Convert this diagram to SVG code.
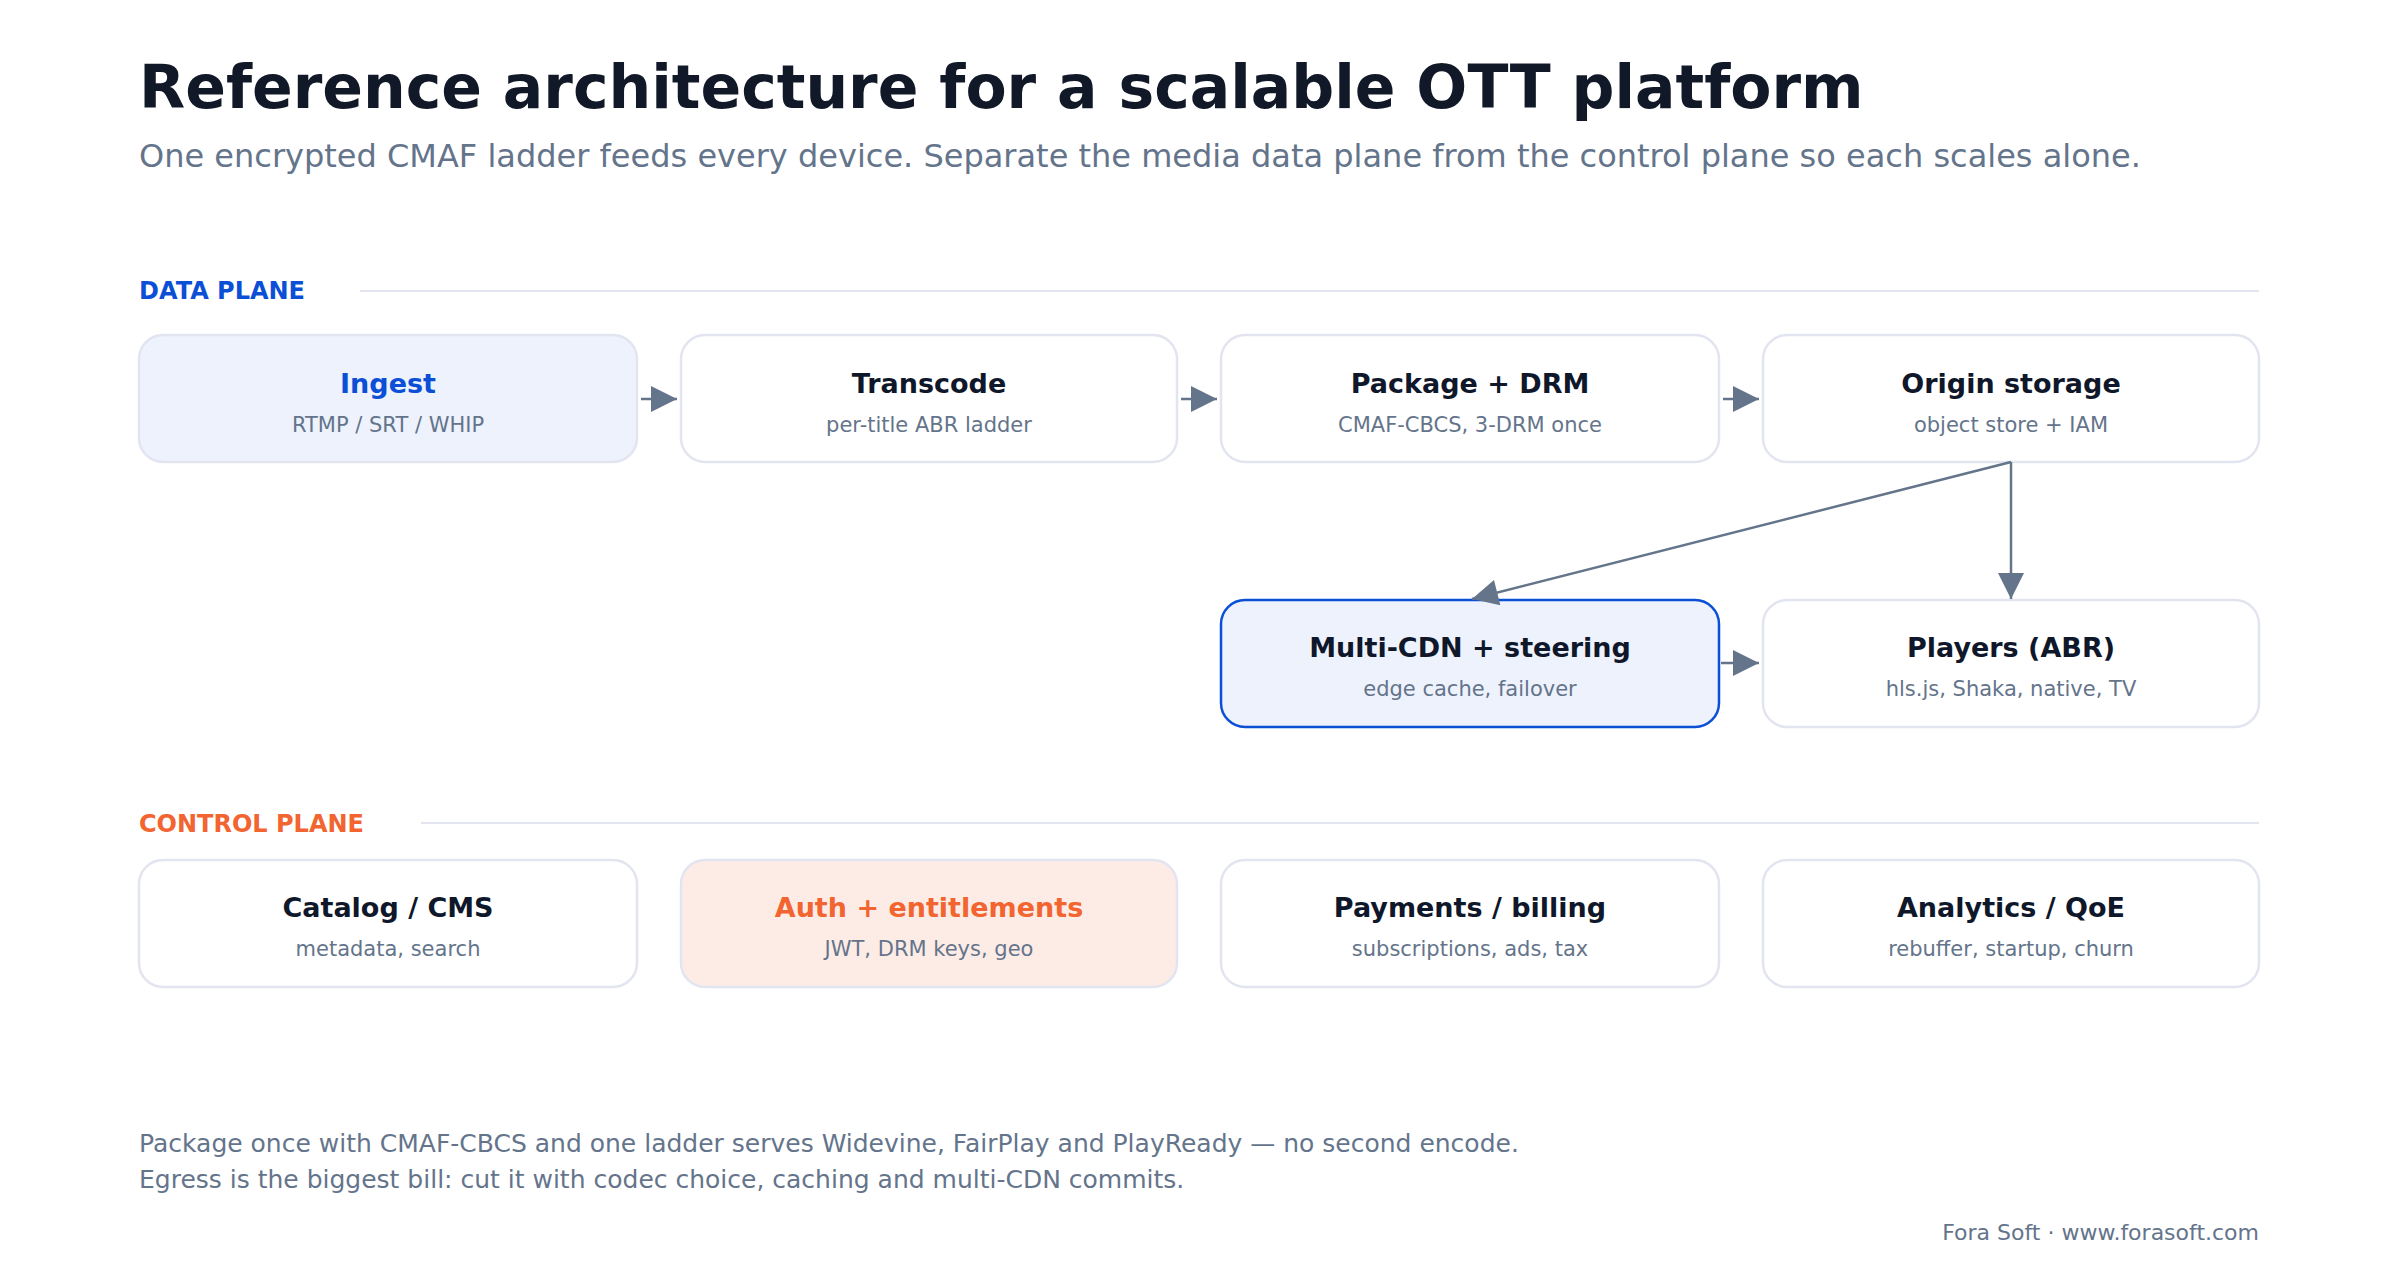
<svg xmlns="http://www.w3.org/2000/svg" width="2400" height="1280" viewBox="0 0 2400 1280">
<style>
text{font-family:"DejaVu Sans","Noto Sans",sans-serif}
.box{fill:#fff;stroke:#e2e5f0;stroke-width:2.5}
.t{font-size:27px;font-weight:bold;fill:#0f172a;text-anchor:middle}
.s{font-size:21px;fill:#64748b;text-anchor:middle}
.sec{font-size:24px;font-weight:bold}
.foot{font-size:25px;fill:#64748b}
</style>
<defs>
<marker id="b" viewBox="0 0 10 10" refX="10" refY="5" markerWidth="28" markerHeight="26" markerUnits="userSpaceOnUse" orient="auto"><path d="M0,0L10,5L0,10z" fill="#64748b"/></marker></defs>
<rect width="2400" height="1280" fill="#fff"/>
<text x="139" y="108" font-size="60" font-weight="bold" fill="#111827">Reference architecture for a scalable OTT platform</text>
<text x="139" y="167" font-size="32" fill="#64748b">One encrypted CMAF ladder feeds every device. Separate the media data plane from the control plane so each scales alone.</text>
<text x="139" y="299" class="sec" fill="#0b4fd6">DATA PLANE</text>
<line x1="360" y1="291" x2="2259" y2="291" stroke="#e2e5f0" stroke-width="2"/>
<text x="139" y="832" class="sec" fill="#f26430">CONTROL PLANE</text>
<line x1="421" y1="823" x2="2259" y2="823" stroke="#e2e5f0" stroke-width="2"/>
<g id="ingest"><rect class="box" x="139" y="335" width="498" height="127" rx="24" style="fill:#edf2fd"/><text class="t" x="388" y="393" style="fill:#0b4fd6">Ingest</text><text class="s" x="388" y="432">RTMP / SRT / WHIP</text></g>
<g id="transcode"><rect class="box" x="681" y="335" width="496" height="127" rx="24"/><text class="t" x="929" y="393">Transcode</text><text class="s" x="929" y="432">per-title ABR ladder</text></g>
<g id="package"><rect class="box" x="1221" y="335" width="498" height="127" rx="24"/><text class="t" x="1470" y="393">Package + DRM</text><text class="s" x="1470" y="432">CMAF-CBCS, 3-DRM once</text></g>
<g id="origin"><rect class="box" x="1763" y="335" width="496" height="127" rx="24"/><text class="t" x="2011" y="393">Origin storage</text><text class="s" x="2011" y="432">object store + IAM</text></g>
<g id="cdn"><rect class="box" x="1221" y="600" width="498" height="127" rx="24" style="fill:#edf2fd;stroke:#0b4fd6"/><text class="t" x="1470" y="657">Multi-CDN + steering</text><text class="s" x="1470" y="696">edge cache, failover</text></g>
<g id="players"><rect class="box" x="1763" y="600" width="496" height="127" rx="24"/><text class="t" x="2011" y="657">Players (ABR)</text><text class="s" x="2011" y="696">hls.js, Shaka, native, TV</text></g>
<g id="catalog"><rect class="box" x="139" y="860" width="498" height="127" rx="24"/><text class="t" x="388" y="917">Catalog / CMS</text><text class="s" x="388" y="956">metadata, search</text></g>
<g id="auth"><rect class="box" x="681" y="860" width="496" height="127" rx="24" style="fill:#fdece6"/><text class="t" x="929" y="917" style="fill:#f26430">Auth + entitlements</text><text class="s" x="929" y="956">JWT, DRM keys, geo</text></g>
<g id="payments"><rect class="box" x="1221" y="860" width="498" height="127" rx="24"/><text class="t" x="1470" y="917">Payments / billing</text><text class="s" x="1470" y="956">subscriptions, ads, tax</text></g>
<g id="analytics"><rect class="box" x="1763" y="860" width="496" height="127" rx="24"/><text class="t" x="2011" y="917">Analytics / QoE</text><text class="s" x="2011" y="956">rebuffer, startup, churn</text></g>
<g id="connectors" stroke="#64748b" stroke-width="2.5" fill="none">
<line x1="641" y1="399" x2="677" y2="399" marker-end="url(#b)"/>
<line x1="1181" y1="399" x2="1217" y2="399" marker-end="url(#b)"/>
<line x1="1723" y1="399" x2="1759" y2="399" marker-end="url(#b)"/>
<line x1="2011" y1="462" x2="1472" y2="599" marker-end="url(#b)"/>
<line x1="2011" y1="462" x2="2011" y2="599" marker-end="url(#b)"/>
<line x1="1721" y1="663" x2="1759" y2="663" marker-end="url(#b)"/>
</g>
<text x="139" y="1152" class="foot">Package once with CMAF-CBCS and one ladder serves Widevine, FairPlay and PlayReady — no second encode.</text>
<text x="139" y="1188" class="foot">Egress is the biggest bill: cut it with codec choice, caching and multi-CDN commits.</text>
<text x="2259" y="1240" font-size="22" fill="#64748b" text-anchor="end">Fora Soft · www.forasoft.com</text>
</svg>
